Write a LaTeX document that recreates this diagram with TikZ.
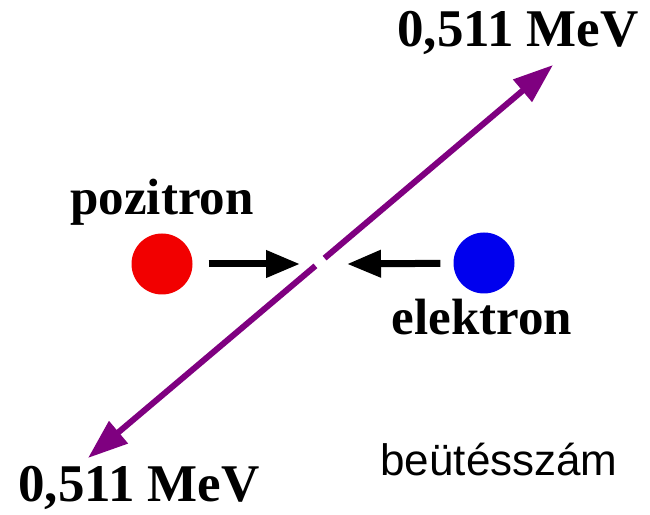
\documentclass[tikz,border=0pt]{standalone}
\usepackage{fontspec}
\setmainfont{Liberation Serif}
\newfontfamily\cntfont{Liberation Sans}
\usetikzlibrary{arrows.meta}
\definecolor{gam}{HTML}{7F0080}
\definecolor{posc}{HTML}{F20000}
\definecolor{elec}{HTML}{0000EE}
\tikzset{
  part/.style={circle,inner sep=0pt,minimum size=61pt},
  lbl/.style={font=\fontsize{51}{60}\selectfont\bfseries,inner sep=0pt,anchor=base},
  elbl/.style={lbl,font=\fontsize{53}{60}\selectfont\bfseries},
  gamarr/.style={-{Triangle[length=40pt,width=28pt]},draw=gam,line width=6pt,shorten <=6pt},
  hitarr/.style={-{Triangle[length=34pt,width=26pt]},line width=7pt},
}
\begin{document}
\begin{tikzpicture}[x=1pt,y=1pt]
\useasboundingbox (0,0) rectangle (650,514);
\node[part,fill=posc] (pos) at (162,250) {};
\node[part,fill=elec] (ele) at (484,251) {};
\node[lbl] (poslbl) at (162,299) {pozitron};
\node[lbl] (elelbl) at (482,179) {elektron};
\node[elbl] (topE) at (518,467) {0,511 MeV};
\node[elbl] (botE) at (139,13) {0,511 MeV};
\node[anchor=base,inner sep=0pt,font=\cntfont\fontsize{44}{50}\selectfont] (cnt) at (499,39) {beütésszám};
\coordinate (mid) at (320,252);
\coordinate (tipT) at (553,449);
\coordinate (tipB) at (88,56);
\coordinate (hitL) at (300,250);
\coordinate (hitR) at (347,250);
\draw[gamarr] (mid) -- (tipT);
\draw[gamarr] (mid) -- (tipB);
\draw[hitarr,shorten <=16pt] (pos) -- (hitL);
\draw[hitarr,shorten <=13pt] (ele) -- (hitR);
\end{tikzpicture}
\end{document}
